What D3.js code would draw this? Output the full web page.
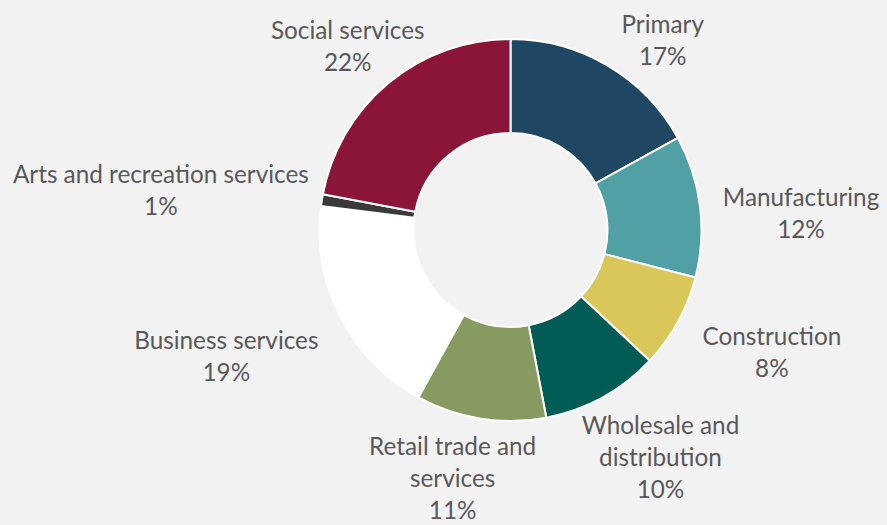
<!DOCTYPE html>
<html>
<head>
<meta charset="utf-8">
<script src="https://cdn.jsdelivr.net/npm/d3@7"></script>
<style>
  html, body { margin: 0; padding: 0; background: #F2F2F2; }
  svg { display: block; }
  text { font-family: Lato, "Open Sans", sans-serif; fill: #595959; }
</style>
</head>
<body>
<svg id="chart" width="887" height="525"></svg>
<script>
// Share of employment by sector (%)
const sectors = [
  "Primary", "Manufacturing", "Construction", "Wholesale and distribution",
  "Retail trade and services", "Business services", "Arts and recreation services",
  "Social services"
];
const shares = [17, 12, 8, 10, 11, 19, 1, 22];
const colors = ["#1F4662", "#50A0A5", "#D9C75A", "#005C55", "#879B60", "#FFFFFF", "#3A3A3A", "#8A1538"];

// Label text lines (category name wrapped as drawn)
const labelLines = [
  ["Primary"],
  ["Manufacturing"],
  ["Construction"],
  ["Wholesale and", "distribution"],
  ["Retail trade and", "services"],
  ["Business services"],
  ["Arts and recreation services"],
  ["Social services"]
];
// Offset of each label's first baseline from the slice's outer mid point
const labelOffsets = [
  [55, -33], [101, 0], [94, 23], [58, 37], [-28, 36], [-114, 32], [-161, -17], [-41, -44]
];

const width = 887, height = 525;
const cx = 510.5, cy = 230;
const outerR = 191, innerR = 97;
const lineH = 32;

const svg = d3.select("#chart");
svg.append("rect").attr("width", width).attr("height", height).attr("fill", "#F2F2F2");

const data = sectors.map((s, i) => ({ name: s, value: shares[i], color: colors[i], lines: labelLines[i], off: labelOffsets[i] }));

const pie = d3.pie().value(d => d.value).sort(null);
const arc = d3.arc().innerRadius(innerR).outerRadius(outerR);
const rim = d3.arc().innerRadius(outerR).outerRadius(outerR);

const g = svg.append("g").attr("transform", `translate(${cx},${cy})`);
const arcs = pie(data);

g.selectAll("path.slice")
  .data(arcs)
  .join("path")
  .attr("class", "slice")
  .attr("d", arc)
  .attr("fill", d => d.data.color)
  .attr("stroke", "#FFFFFF")
  .attr("stroke-width", 2)
  .attr("stroke-linejoin", "round");

const total = d3.sum(shares);
const labels = g.selectAll("text.lbl")
  .data(arcs)
  .join("text")
  .attr("class", "lbl")
  .attr("text-anchor", "middle")
  .style("font-size", "24.3px")
  .attr("transform", d => {
    const [x, y] = rim.centroid(d);
    return `translate(${x + d.data.off[0]},${y + d.data.off[1]})`;
  });

labels.each(function(d) {
  const t = d3.select(this);
  const lines = d.data.lines.concat([d3.format(".0%")(d.data.value / total)]);
  lines.forEach((ln, i) => {
    t.append("tspan").attr("x", 0).attr("y", i * lineH).text(ln);
  });
});
</script>
</body>
</html>
